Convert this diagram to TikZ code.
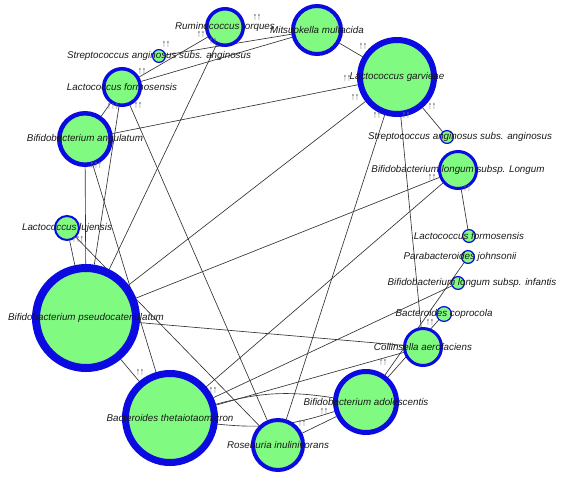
\documentclass[tikz,border=0pt]{standalone}
\usepackage{fontspec}
\setmainfont{Liberation Sans}
\newfontfamily\arrowfont{DejaVu Sans}
\usepackage{xcolor}
\usepackage{tikz}
\usetikzlibrary{backgrounds}

\definecolor{nodegreen}{RGB}{128,250,128}
\definecolor{ringblue}{RGB}{10,10,225}
\newcommand{\upup}[1]{\scalebox{0.55}[1]{#1}}

\begin{document}
\begin{tikzpicture}[x=1pt, y=-1pt, font=\fontsize{9.8}{11}\selectfont\itshape,
  sp/.style 2 args={circle, draw=ringblue, fill=nodegreen, inner sep=0pt, minimum size=#1, line width=#2},
  lab/.style={text=black!90, inner sep=0pt},
  arr/.style={font=\arrowfont\fontsize{8.5}{9}\selectfont\upshape, text=black!60, inner sep=0pt},
  link/.style={draw=black!80, line width=0.65pt}]
  \useasboundingbox (0,0) rectangle (562,480);

  \node[sp={36.5pt}{3.5pt}, label={[lab]center:Ruminococcus torques}] (rt) at (225,27) {};
  \node[sp={48pt}{4pt}, label={[lab]center:Mitsuokella multacida}] (mm) at (317,30) {};
  \node[sp={12.8pt}{1.2pt}, label={[lab]center:Streptococcus anginosus subs. anginosus}] (sa1) at (159,56) {};
  \node[sp={36.5pt}{3.5pt}, label={[lab]center:Lactococcus formosensis}] (lf1) at (122,87) {};
  \node[sp={51.5pt}{4.5pt}, label={[lab]center:Bifidobacterium angulatum}] (ban) at (85,139) {};
  \node[sp={24pt}{2pt}, label={[lab]center:Lactococcus lujensis}] (ll) at (67,228) {};
  \node[sp={100pt}{8pt}, label={[lab]center:Bifidobacterium pseudocatenulatum}] (bps) at (86,318) {};
  \node[sp={89pt}{7pt}, label={[lab]center:Bacteroides thetaiotaomicron}] (bth) at (170,418) {};
  \node[sp={50pt}{4pt}, label={[lab]center:Roseburia inulinivorans}] (ri) at (278,445) {};
  \node[sp={61pt}{5pt}, label={[lab]center:Bifidobacterium adolescentis}] (bad) at (366,402) {};
  \node[sp={37pt}{3pt}, label={[lab]center:Collinsella aerofaciens}] (ca) at (423,347) {};
  \node[sp={14.8pt}{1.2pt}, label={[lab]center:Bacteroides coprocola}] (bco) at (444,314) {};
  \node[sp={12.8pt}{1.2pt}, label={[lab, xshift=14pt]center:Bifidobacterium longum subsp. infantis}] (binf) at (458,283) {};
  \node[sp={12.8pt}{1.2pt}, label={[lab, xshift=-8pt]center:Parabacteroides johnsonii}] (pj) at (468,257) {};
  \node[sp={12.8pt}{1.2pt}, label={[lab]center:Lactococcus formosensis}] (lf2) at (469,236) {};
  \node[sp={37pt}{3pt}, label={[lab]center:Bifidobacterium longum subsp. Longum}] (blo) at (458,170) {};
  \node[sp={12.8pt}{1.2pt}, label={[lab, xshift=13pt]center:Streptococcus anginosus subs. anginosus}] (sa2) at (447,137) {};
  \node[sp={74pt}{6pt}, label={[lab]center:Lactococcus garvieae}] (lg) at (397,77) {};

  % links under the circles
  \begin{scope}[on background layer]
    \draw[link] (sa1) -- (mm); \draw[link] (lf1) -- (mm); \draw[link] (lf1) -- (rt);
    \draw[link] (rt) -- (bps); \draw[link] (mm) -- (lg);
    \draw[link] (lg) -- (ban); \draw[link] (lg) -- (bps); \draw[link] (lg) -- (ri);
    \draw[link] (lg) -- (ca); \draw[link] (lg) -- (sa2);
    \draw[link] (blo) -- (lf2); \draw[link] (blo) -- (bps); \draw[link] (blo) -- (bth);
    \draw[link] (pj) -- (bad); \draw[link] (bco) -- (bad); \draw[link] (binf) -- (bth);
    \draw[link] (bps) -- (ca); \draw[link] (bth) -- (ca); \draw[link] (ri) -- (bad);
    \draw[link] (bth) to[bend left=12] (bad); \draw[link] (bth) to[bend right=12] (bad);
    \draw[link] (lf1) -- (ban); \draw[link] (lf1) -- (bps); \draw[link] (lf1) -- (ri);
    \draw[link] (ban) -- (bps); \draw[link] (ban) -- (bth);
    \draw[link] (ll) -- (bps); \draw[link] (ll) -- (ri); \draw[link] (bps) -- (bth);
  \end{scope}

  \node[arr] (u1) at (257,17) {\upup{↑↑}}; \node[arr] (u2) at (201,34) {\upup{↑↑}};
  \node[arr] (u3) at (213,41) {\upup{↑↑}}; \node[arr] (u4) at (166,44) {\upup{↑↑}};
  \node[arr] (u5) at (142,71) {\upup{↑↑}}; \node[arr] (u6) at (113,106) {\upup{↑↑↑}};
  \node[arr] (u7) at (138,105) {\upup{↑↑}}; \node[arr] (u8) at (96,165) {\upup{↑↑↑}};
  \node[arr] (u9) at (78,239) {\upup{↑↑↑}};
  \node[arr] (u10) at (363,46) {\upup{↑↑}}; \node[arr] (u11) at (347,78) {\upup{↑↑}};
  \node[arr] (u12) at (355,97) {\upup{↑↑}}; \node[arr] (u13) at (377,115) {\upup{↑↑}};
  \node[arr] (u14) at (406,115) {\upup{↑↑}}; \node[arr] (u15) at (432,106) {\upup{↑↑}};
  \node[arr] (u16) at (432,177) {\upup{↑↑}}; \node[arr] (u17) at (467,188) {\upup{↑↑}};
  \node[arr] (u18) at (430,322) {\upup{↑↑}}; \node[arr] (u19) at (383,362) {\upup{↑↑}};
  \node[arr] (u20) at (324,411) {\upup{↑↑}}; \node[arr] (u21) at (302,423) {\upup{↑↑}};
  \node[arr] (u22) at (213,390) {\upup{↑↑}}; \node[arr] (u23) at (140,372) {\upup{↑↑}};
\end{tikzpicture}
\end{document}
